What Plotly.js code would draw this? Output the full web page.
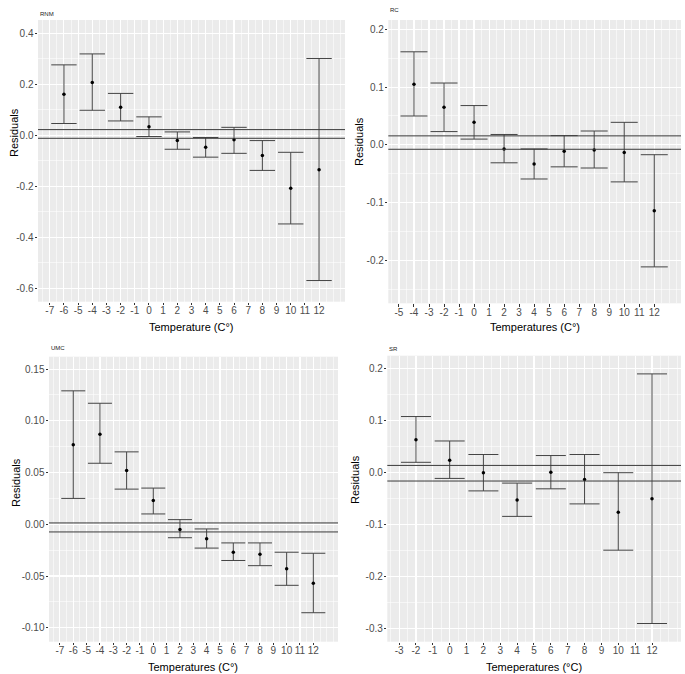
<!DOCTYPE html>
<html>
<head>
<meta charset="utf-8">
<script src="https://cdn.plot.ly/plotly-3.0.1.min.js"></script>
<style>html,body{margin:0;padding:0;background:#fff;}#chart{width:685px;height:674px;}</style>
</head>
<body>
<div id="chart"></div>
<script>
// ---------- data ----------
const rnmTemp  = [-6, -4, -2, 0, 2, 4, 6, 8, 10, 12];
const rnmMean  = [0.161, 0.207, 0.110, 0.033, -0.021, -0.047, -0.018, -0.080, -0.208, -0.135];
const rnmUpper = [0.276, 0.319, 0.164, 0.072, 0.013, -0.009, 0.031, -0.021, -0.067, 0.301];
const rnmLower = [0.046, 0.098, 0.056, -0.005, -0.055, -0.086, -0.071, -0.138, -0.348, -0.570];
const rnmRefLines = [0.022, -0.012];

const rcTemp  = [-4, -2, 0, 2, 4, 6, 8, 10, 12];
const rcMean  = [0.105, 0.065, 0.039, -0.007, -0.033, -0.011, -0.009, -0.013, -0.114];
const rcUpper = [0.161, 0.107, 0.068, 0.018, -0.007, 0.016, 0.024, 0.039, -0.017];
const rcLower = [0.050, 0.023, 0.010, -0.031, -0.059, -0.038, -0.040, -0.064, -0.211];
const rcRefLines = [0.0156, -0.0076];

const umcTemp  = [-6, -4, -2, 0, 2, 4, 6, 8, 10, 12];
const umcMean  = [0.077, 0.087, 0.052, 0.023, -0.005, -0.014, -0.027, -0.029, -0.043, -0.057];
const umcUpper = [0.129, 0.117, 0.070, 0.035, 0.0045, -0.0045, -0.018, -0.018, -0.027, -0.028];
const umcLower = [0.025, 0.059, 0.034, 0.010, -0.013, -0.023, -0.035, -0.040, -0.059, -0.0855];
const umcRefLines = [0.0013, -0.0074];

const srTemp  = [-2, 0, 2, 4, 6, 8, 10, 12];
const srMean  = [0.0635, 0.024, 0.000, -0.0525, 0.001, -0.013, -0.076, -0.050];
const srUpper = [0.108, 0.061, 0.035, -0.020, 0.033, 0.035, 0.000, 0.190];
const srLower = [0.020, -0.011, -0.035, -0.084, -0.031, -0.060, -0.149, -0.290];
const srRefLines = [0.014, -0.016];

const xTickValues = [-7, -6, -5, -4, -3, -2, -1, 0, 1, 2, 3, 4, 5, 6, 7, 8, 9, 10, 11, 12];
const xTickLabels = ['-7','-6','-5','-4','-3','-2','-1','0','1','2','3','4','5','6','7','8','9','10','11','12'];

const rnmYTicks = [-0.6, -0.4, -0.2, 0, 0.2, 0.4];
const rnmYLabels = ['-0.6', '-0.4', '-0.2', '0.0', '0.2', '0.4'];
const rcYTicks = [-0.2, -0.1, 0, 0.1, 0.2];
const rcYLabels = ['-0.2', '-0.1', '0.0', '0.1', '0.2'];
const umcYTicks = [-0.10, -0.05, 0, 0.05, 0.10, 0.15];
const umcYLabels = ['-0.10', '-0.05', '0.00', '0.05', '0.10', '0.15'];
const srYTicks = [-0.3, -0.2, -0.1, 0, 0.1, 0.2];
const srYLabels = ['-0.3', '-0.2', '-0.1', '0.0', '0.1', '0.2'];

const panelNames = ['RNM', 'RC', 'UMC', 'SR'];
const xTitles = ['Temperature (C°)', 'Temperatures (C°)', 'Temperatures (C°)', 'Temeperatures (°C)'];
const yTitle = 'Residuals';

// ---------- layout helpers ----------
const W = 685, H = 674;
const FONT = 'Liberation Sans, Arial, sans-serif';
const BAR_COL = '#444444';

const panels = [
  {temp: rnmTemp, mean: rnmMean, up: rnmUpper, lo: rnmLower, ref: rnmRefLines,
   px: [38, 345], py: [20, 301.7], xr: [-7.83, 13.83], yr: [-0.653, 0.452],
   yt: rnmYTicks, yl: rnmYLabels, yminor: 0.1, cap: 12.7,
   tag: [38, 14], xt: [191, 327], ytl: [14, 133]},
  {temp: rcTemp, mean: rcMean, up: rcUpper, lo: rcLower, ref: rcRefLines,
   px: [388.3, 681], py: [20, 303.3], xr: [-5.71, 13.78], yr: [-0.274, 0.216],
   yt: rcYTicks, yl: rcYLabels, yminor: 0.05, cap: 13.5,
   tag: [388.3, 10], xt: [534.5, 327], ytl: [359, 142]},
  {temp: umcTemp, mean: umcMean, up: umcUpper, lo: umcLower, ref: umcRefLines,
   px: [49, 338], py: [356.7, 641.7], xr: [-7.82, 13.85], yr: [-0.1135, 0.162],
   yt: umcYTicks, yl: umcYLabels, yminor: 0.025, cap: 12,
   tag: [49, 348], xt: [193.5, 667], ytl: [16, 482]},
  {temp: srTemp, mean: srMean, up: srUpper, lo: srLower, ref: srRefLines,
   px: [387.3, 681], py: [355.7, 641.7], xr: [-3.70, 13.72], yr: [-0.325, 0.225],
   yt: srYTicks, yl: srYLabels, yminor: 0.05, cap: 15,
   tag: [387.3, 349], xt: [534, 667], ytl: [355, 480]}
];

const data = [];
const layout = {
  width: W, height: H,
  margin: {l: 0, r: 0, t: 0, b: 0},
  paper_bgcolor: '#ffffff',
  plot_bgcolor: '#EBEBEB',
  showlegend: false,
  font: {family: FONT, color: '#000'},
  shapes: [],
  annotations: []
};

panels.forEach((p, i) => {
  const n = i + 1;
  const xa = n === 1 ? 'x' : 'x' + n;
  const ya = n === 1 ? 'y' : 'y' + n;
  const xKey = n === 1 ? 'xaxis' : 'xaxis' + n;
  const yKey = n === 1 ? 'yaxis' : 'yaxis' + n;

  const tv = [], tt = [];
  xTickValues.forEach((v, k) => {
    if (v >= p.xr[0] && v <= p.xr[1]) { tv.push(v); tt.push(xTickLabels[k]); }
  });

  layout[xKey] = {
    domain: [p.px[0] / W, p.px[1] / W],
    anchor: ya, range: p.xr, tickmode: 'array', tickvals: tv, ticktext: tt,
    showgrid: true, gridcolor: '#ffffff', gridwidth: 1.1, zeroline: false,
    showline: false, ticks: 'outside', ticklen: 2.5, tickwidth: 1, tickcolor: '#333333',
    ticklabelstandoff: -3,
    tickfont: {family: FONT, size: 10, color: '#4D4D4D'},
    minor: {dtick: 0.5, tick0: 0, showgrid: true, gridcolor: '#ffffff', gridwidth: 0.55, ticks: ''},
    fixedrange: true
  };
  layout[yKey] = {
    domain: [1 - p.py[1] / H, 1 - p.py[0] / H],
    anchor: xa, range: p.yr, tickmode: 'array', tickvals: p.yt, ticktext: p.yl,
    showgrid: true, gridcolor: '#ffffff', gridwidth: 1.1, zeroline: false,
    showline: false, ticks: 'outside', ticklen: 2.5, tickwidth: 1, tickcolor: '#333333',
    ticklabelstandoff: -1,
    tickfont: {family: FONT, size: 10, color: '#4D4D4D'},
    minor: {dtick: p.yminor, tick0: 0, showgrid: true, gridcolor: '#ffffff', gridwidth: 0.55, ticks: ''},
    fixedrange: true
  };

  // reference horizontal lines
  p.ref.forEach(v => {
    layout.shapes.push({type: 'line', xref: xa + ' domain', yref: ya,
      x0: 0, x1: 1, y0: v, y1: v, line: {color: '#3a3a3a', width: 1}, layer: 'above'});
  });

  // error bars + points
  data.push({
    type: 'scatter', mode: 'markers', xaxis: xa, yaxis: ya,
    x: p.temp, y: p.mean,
    marker: {color: '#000000', size: 3.5},
    error_y: {type: 'data', symmetric: false,
      array: p.up.map((u, k) => u - p.mean[k]),
      arrayminus: p.mean.map((m, k) => m - p.lo[k]),
      color: BAR_COL, thickness: 1, width: p.cap},
    hoverinfo: 'skip'
  });

  // panel tag
  layout.annotations.push({text: panelNames[i], xref: 'paper', yref: 'paper',
    x: p.tag[0] / W, y: 1 - p.tag[1] / H, xanchor: 'left', yanchor: 'middle',
    showarrow: false, font: {family: FONT, size: 6, color: '#222'}});
  // x title
  layout.annotations.push({text: xTitles[i], xref: 'paper', yref: 'paper',
    x: p.xt[0] / W, y: 1 - p.xt[1] / H, xanchor: 'center', yanchor: 'middle',
    showarrow: false, font: {family: FONT, size: 11, color: '#000'}});
  // y title
  layout.annotations.push({text: yTitle, xref: 'paper', yref: 'paper',
    x: p.ytl[0] / W, y: 1 - p.ytl[1] / H, xanchor: 'center', yanchor: 'middle',
    textangle: -90, showarrow: false, font: {family: FONT, size: 11, color: '#000'}});
});

Plotly.newPlot('chart', data, layout, {displayModeBar: false, staticPlot: true});
</script>
</body>
</html>
